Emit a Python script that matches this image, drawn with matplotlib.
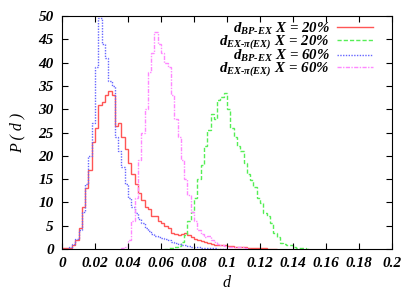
import numpy as np
import matplotlib.pyplot as plt

# bin width of the histograms (d)
bin_w = 0.002

# d_BP-EX, X = 20%  (starts at d = 0)
red_start = 0.0
red_vals = [0.3, 0.3, 0.3, 0.8, 2.0, 4.5, 9, 13, 17, 23, 26, 31, 31.5, 33, 34, 33,
            26.5, 27, 24, 21.5, 18.5, 16, 14, 12, 10.5, 9, 8.5, 7, 7, 6, 5.5, 5,
            4.5, 3.5, 3.2, 3, 3.3, 3.5, 3, 2.6, 2.2, 2, 1.8, 1.5, 1.3, 1.1, 0.9, 0.9,
            0.8, 0.8, 0.6, 0.6, 0.5, 0.5, 0.4, 0.4, 0.3, 0.3, 0.3, 0.2, 0.2, 0.2,
            0.1, 0.1, 0.1]

# d_EX-pi(EX), X = 20%
green_start = 0.062
green_vals = [0.1, 0.2, 0.3, 0.4, 0.6, 1.5, 3, 6, 8, 11, 15, 18, 22, 25.5, 29, 28,
              32, 32.7, 33.4, 30, 26, 24, 22, 21, 18.4, 16.2, 14.8, 13.3, 11, 9.8,
              7.7, 7, 5.5, 3.4, 2.6, 1.2, 1.0, 0.9, 0.8, 0.5, 0.3, 0.3, 0.2, 0.1]

# d_BP-EX, X = 60%
blue_start = 0.0
blue_vals = [0, 0.1, 0.4, 1.0, 2.2, 4, 8, 14, 20, 27, 39, 49.5, 44, 41, 36, 35,
             24, 21, 17.5, 14, 11, 9, 7.7, 6.5, 5.5, 4.5, 3.8, 3.2, 2.8, 2.5, 2.3,
             2.1, 1.9, 1.6, 1.3, 1.0, 0.9, 0.8, 0.6, 0.5, 0.5, 0.4, 0.3, 0.3, 0.2,
             0.2, 0.2, 0.1, 0.1, 0.1]

# d_EX-pi(EX), X = 60%
pink_start = 0.036
pink_vals = [0.2, 0.5, 2, 6, 11, 19, 25, 30, 38, 42, 46.5, 44, 42, 40, 39, 33, 28,
             24, 19, 15, 11.5, 8, 6, 4, 3.2, 2.5, 2.8, 2.0, 1.4, 1.1, 0.8, 0.6, 0.5,
             0.4, 0.5, 0.5, 0.4, 0.2, 0.1]

labels = [r'$d_{BP\text{-}EX}\ X\ \text{=}\ 20\%$',
          r'$d_{EX\text{-}\pi(EX)}\ X\ \text{=}\ 20\%$',
          r'$d_{BP\text{-}EX}\ X\ \text{=}\ 60\%$',
          r'$d_{EX\text{-}\pi(EX)}\ X\ \text{=}\ 60\%$']

x_ticks = [0, 0.02, 0.04, 0.06, 0.08, 0.1, 0.12, 0.14, 0.16, 0.18, 0.2]
x_ticklabels = ['0', '0.02', '0.04', '0.06', '0.08', '0.1', '0.12', '0.14',
                '0.16', '0.18', '0.2']
y_ticks = [0, 5, 10, 15, 20, 25, 30, 35, 40, 45, 50]

plt.rcParams['font.family'] = 'Liberation Serif'
plt.rcParams['font.weight'] = 'bold'
plt.rcParams['font.style'] = 'italic'
plt.rcParams['mathtext.fontset'] = 'custom'
plt.rcParams['mathtext.it'] = 'Liberation Serif:bold:italic'
plt.rcParams['mathtext.rm'] = 'Liberation Serif:bold:italic'
plt.rcParams['mathtext.bf'] = 'Liberation Serif:bold:italic'
plt.rcParams['mathtext.default'] = 'it'

fig = plt.figure(figsize=(4.15, 2.91), dpi=100)
ax = fig.add_axes([0.1494, 0.1443, 0.7952, 0.8007])


def edges(start, vals):
    return start + bin_w * np.arange(len(vals) + 1)


ax.stairs(red_vals, edges(red_start, red_vals), color='#ff5555', lw=1.0,
          label=labels[0])
ax.stairs(green_vals, edges(green_start, green_vals), color='#55ee55', lw=1.0,
          ls=(0, (3, 1.5)), label=labels[1])
ax.stairs(blue_vals, edges(blue_start, blue_vals), color='#6666ff', lw=1.0,
          ls=(0, (1, 1)), label=labels[2])
ax.stairs(pink_vals, edges(pink_start, pink_vals), color='#ff88ff', lw=1.0,
          ls=(0, (3, 1, 1, 1)), label=labels[3])

ax.set_xlim(0, 0.2)
ax.set_ylim(0, 50)
ax.set_xticks(x_ticks)
ax.set_xticklabels(x_ticklabels)
ax.set_yticks(y_ticks)
ax.tick_params(direction='in', top=True, right=True, labelsize=11, length=4,
               pad=6)
ax.set_xlabel('d', fontsize=11.5, labelpad=3)
ax.set_ylabel('P ( d )', fontsize=11.5, labelpad=9)

ax.legend(loc='upper right', bbox_to_anchor=(0.955, 1.0), frameon=False,
          markerfirst=False, fontsize=10.7, handlelength=2.4,
          labelspacing=-0.22, borderaxespad=0.1, borderpad=0.2,
          handletextpad=0.5)

fig.savefig('out.png', dpi=100)
